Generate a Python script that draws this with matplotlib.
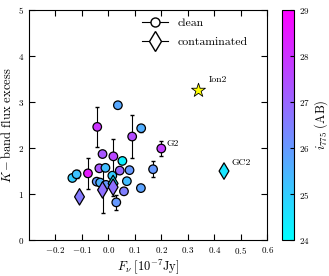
import numpy as np
import matplotlib
matplotlib.use("Agg")
import matplotlib.pyplot as plt
from matplotlib.lines import Line2D

plt.rcParams['font.family'] = 'serif'
plt.rcParams['font.serif'] = ['cmr10', 'DejaVu Serif']
plt.rcParams['mathtext.fontset'] = 'cm'
plt.rcParams['axes.formatter.use_mathtext'] = True
plt.rcParams['font.size'] = 7

# clean sources: flux, K-band excess, error, i775 magnitude
clean_x = [-0.136, -0.12, -0.077, -0.042, -0.022, -0.034, -0.011, -0.044, -0.031, -0.009,
           0.019, 0.053, 0.015, 0.043, 0.08, 0.07, 0.059, 0.03, 0.123, 0.169,
           0.2, 0.036, 0.09, 0.124]
clean_y = [1.35, 1.43, 1.45, 2.46, 1.87, 1.56, 1.57, 1.27, 1.25, 1.20,
           1.82, 1.72, 1.40, 1.51, 1.52, 1.28, 1.06, 0.82, 1.13, 1.54,
           1.99, 2.93, 2.25, 2.43]
clean_err = [0.0, 0.09, 0.33, 0.44, 0.0, 0.0, 0.0, 0.0, 0.0, 0.0,
             0.38, 0.0, 0.0, 0.0, 0.0, 0.0, 0.0, 0.17, 0.0, 0.17,
             0.17, 0.0, 0.47, 0.08]
clean_mag = [25.0, 25.2, 28.5, 28.0, 27.3, 27.3, 25.3, 26.0, 25.5, 26.0,
             27.6, 24.3, 25.0, 27.0, 26.0, 25.3, 26.5, 26.0, 25.8, 26.0,
             27.8, 25.7, 27.5, 25.6]

# contaminated sources
cont_x = [0.018, -0.109, -0.022, 0.018, 0.437]
cont_y = [1.23, 0.94, 1.09, 1.15, 1.50]
cont_err = [0.0, 0.0, 0.5, 0.2, 0.0]
cont_mag = [24.5, 26.6, 26.8, 26.8, 24.5]

# special source
ion_x, ion_y = 0.337, 3.26

fig = plt.figure(figsize=(3.29, 2.76), dpi=100)
ax = fig.add_axes([0.088, 0.13, 0.724, 0.834])
cax = fig.add_axes([0.857, 0.13, 0.037, 0.834])

cmap = plt.get_cmap('cool')
norm = matplotlib.colors.Normalize(vmin=24, vmax=29)

for xv, yv, e in zip(clean_x + cont_x, clean_y + cont_y, clean_err + cont_err):
    if e > 0:
        ax.errorbar(xv, yv, yerr=e, fmt='none', ecolor='k', elinewidth=0.8, capsize=1.5, zorder=1)

sc = ax.scatter(clean_x, clean_y, c=clean_mag, cmap=cmap, norm=norm, marker='o', s=38,
                edgecolors='k', linewidths=0.9, zorder=3)
ax.scatter(cont_x, cont_y, c=cont_mag, cmap=cmap, norm=norm, marker='d', s=70,
           edgecolors='k', linewidths=0.9, zorder=3)
ax.scatter([ion_x], [ion_y], marker='*', s=110, c='yellow', edgecolors='k', linewidths=0.6, zorder=3)

ax.text(0.38, 3.48, 'Ion2', fontsize=7, va='center')
ax.text(0.22, 2.1, 'G2', fontsize=7, va='center')
ax.text(0.467, 1.67, 'GC2', fontsize=7, va='center')

# legend with errorbar-style handles
l1 = Line2D([], [], marker='o', mfc='white', mec='k', color='k', lw=0.8, markersize=6.5)
l2 = Line2D([], [], marker='d', mfc='white', mec='k', color='k', lw=0.8, markersize=10)
ax.legend([l1, l2], ['clean', 'contaminated'], loc='upper left', bbox_to_anchor=(0.455, 0.985),
          frameon=False, fontsize=8.5, handlelength=2.2, handletextpad=0.8,
          borderaxespad=0.0, labelspacing=0.75)

ax.set_xlim(-0.3, 0.6)
ax.set_ylim(0, 5)
ax.set_xticks([-0.2, -0.1, 0.0, 0.1, 0.2, 0.3, 0.4, 0.5, 0.6])
ax.set_yticks([0, 1, 2, 3, 4, 5])
ax.tick_params(direction='in', top=True, right=True, length=4, labelsize=6.5)
ax.set_xlabel(r'$F_{\nu}\ [10^{-7}\mathrm{Jy}]$', fontsize=9, labelpad=1)
ax.set_ylabel(r'$K-$band flux excess', fontsize=9, labelpad=3)

cb = fig.colorbar(sc, cax=cax)
cb.set_ticks([24, 25, 26, 27, 28, 29])
cb.ax.tick_params(direction='in', length=3, labelsize=6.5)
cb.set_label(r'$i_{775}\ \mathrm{(AB)}$', fontsize=9, labelpad=2)
cb.outline.set_linewidth(0.8)

fig.savefig('out.png', dpi=100)
